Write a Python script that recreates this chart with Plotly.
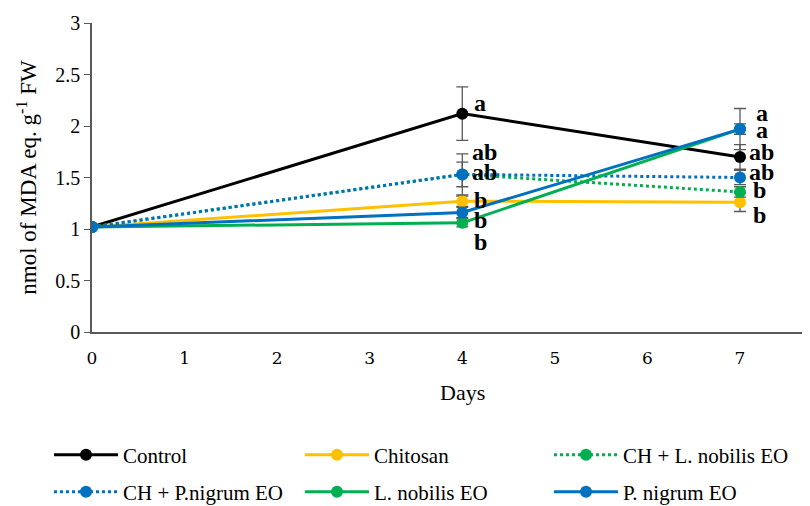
import plotly.graph_objects as go

days = [0, 4, 7]
series_names = ["Control", "Chitosan", "CH + L. nobilis EO", "CH + P.nigrum EO", "L. nobilis EO", "P. nigrum EO"]
control = [1.02, 2.12, 1.70]
chitosan = [1.02, 1.27, 1.26]
ch_lnobilis = [1.02, 1.53, 1.36]
ch_pnigrum = [1.02, 1.53, 1.50]
lnobilis = [1.02, 1.06, 1.97]
pnigrum = [1.02, 1.16, 1.97]

err_control = [0.0, 0.26, 0.12]
err_chitosan = [0.0, 0.05, 0.09]
err_ch_lnobilis = [0.0, 0.12, 0.05]
err_ch_pnigrum = [0.0, 0.20, 0.07]
err_lnobilis = [0.0, 0.04, 0.05]
err_pnigrum = [0.0, 0.05, 0.20]

colors = ["#000000", "#FFC000", "#00B050", "#0070C0", "#00B050", "#0070C0"]
dashes = ["solid", "solid", "dot", "dot", "solid", "solid"]

# significance letters
letter_days = [4, 4, 4, 4, 4, 4, 7, 7, 7, 7, 7, 7]
letter_y = [2.22, 1.75, 1.55, 1.28, 1.09, 0.87, 2.13, 1.96, 1.75, 1.55, 1.38, 1.14]
letter_text = ["a", "ab", "ab", "b", "b", "b", "a", "a", "ab", "ab", "b", "b"]
letter_shift = [10, 8, 8, 10, 10, 10, 14, 14, 7, 7, 11, 11]

all_vals = [control, chitosan, ch_lnobilis, ch_pnigrum, lnobilis, pnigrum]
all_errs = [err_control, err_chitosan, err_ch_lnobilis, err_ch_pnigrum, err_lnobilis, err_pnigrum]

# legend placement (figure pixels: start x, row center y)
W, H = 802, 498
leg_pos = [(41, 447), (292, 447), (541, 447), (41, 484), (292, 484), (541, 484)]
legend_ids = ["legend", "legend2", "legend3", "legend4", "legend5", "legend6"]

fig = go.Figure()
for name, vals, errs, c, d, lid in zip(series_names, all_vals, all_errs, colors, dashes, legend_ids):
    fig.add_trace(go.Scatter(
        x=days, y=vals, name=name, mode="lines+markers", legend=lid,
        line=dict(color=c, width=3, dash=d),
        marker=dict(color=c, size=12, symbol="circle"),
        error_y=dict(type="data", array=errs, visible=True, color="#595959", thickness=1.3, width=6),
    ))

for xd, yv, t, sh in zip(letter_days, letter_y, letter_text, letter_shift):
    fig.add_annotation(x=xd, y=yv, text="<b>" + t + "</b>", showarrow=False,
                       xanchor="left", yanchor="middle", xshift=sh,
                       font=dict(family="Liberation Serif", size=24, color="#000000"))

# x-axis title placed under day 4, as in the original
fig.add_annotation(x=4, xref="x", y=0, yref="paper", yshift=-60, text="Days", showarrow=False,
                   xanchor="center", yanchor="middle",
                   font=dict(family="Liberation Serif", size=22, color="#000000"))

layout_legends = {}
for lid, (px, py) in zip(legend_ids, leg_pos):
    layout_legends[lid] = dict(
        xref="container", yref="container", x=px / W, y=1 - py / H,
        xanchor="left", yanchor="middle", orientation="h", itemwidth=64,
        bgcolor="rgba(0,0,0,0)",
        font=dict(family="Liberation Serif", size=21, color="#000000"),
    )

fig.update_layout(
    width=W, height=H,
    paper_bgcolor="white", plot_bgcolor="white",
    margin=dict(l=84, r=0, t=15, b=174),
    showlegend=True,
    font=dict(family="Liberation Serif", color="#000000"),
    **layout_legends,
)
fig.update_xaxes(range=[0, 7.756], tickvals=[0, 1, 2, 3, 4, 5, 6, 7], showgrid=False, zeroline=False,
                 showline=True, linecolor="#595959", linewidth=1.5, ticks="", ticklabelstandoff=10,
                 tickfont=dict(family="DejaVu Serif", size=17, color="#000000"))
fig.update_yaxes(range=[0, 3], tickvals=[0, 0.5, 1, 1.5, 2, 2.5, 3], ticktext=["0", "0.5", "1", "1.5", "2", "2.5", "3"],
                 showgrid=False, zeroline=False,
                 showline=True, linecolor="#595959", linewidth=1.5, ticks="outside", ticklen=6, tickcolor="#595959",
                 tickfont=dict(family="Liberation Serif", size=20, color="#000000"),
                 title=dict(text="nmol of MDA eq. g<sup>-1</sup> FW", font=dict(family="Liberation Serif", size=23), standoff=12))

fig.write_html("out.html")
